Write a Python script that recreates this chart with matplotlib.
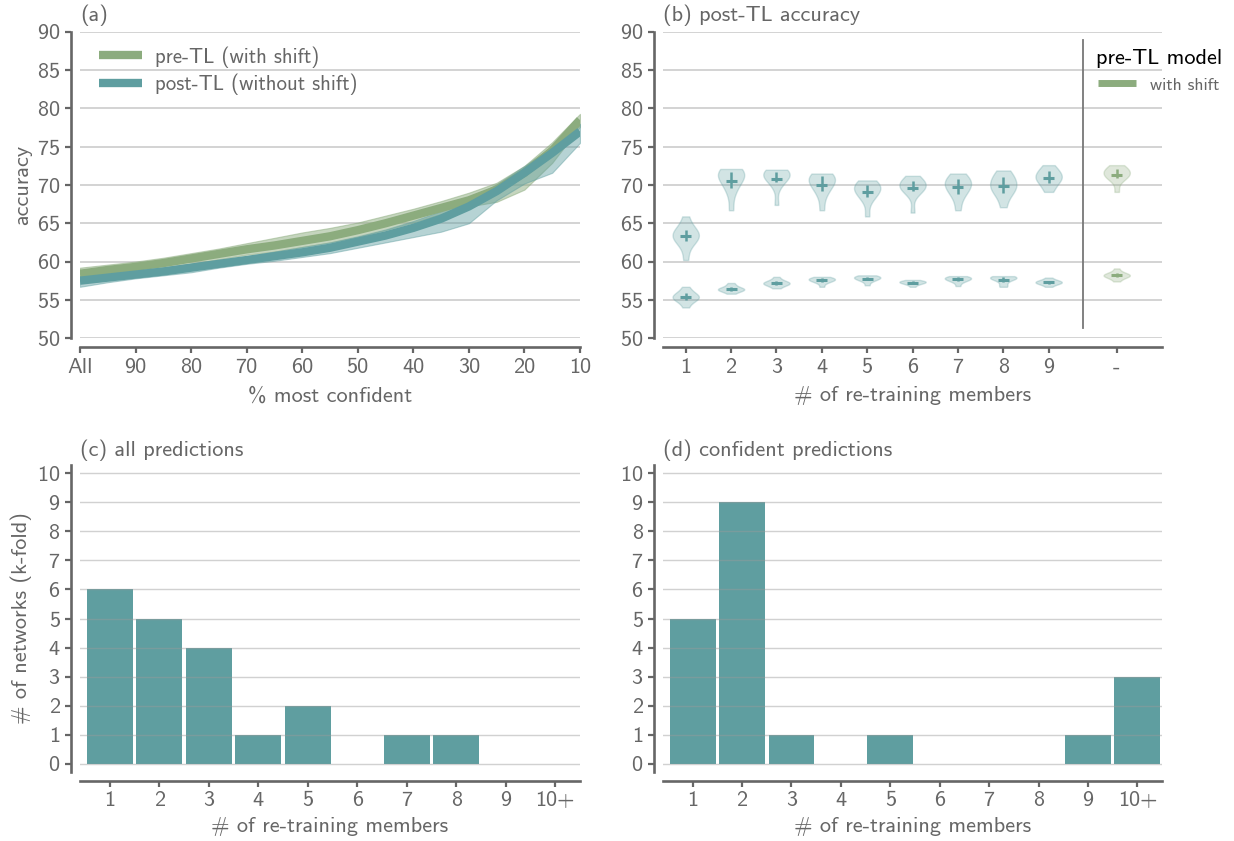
import matplotlib
matplotlib.use("Agg")
import matplotlib.pyplot as plt
from matplotlib.lines import Line2D
import numpy as np

plt.rcParams["font.family"] = ["cmss10", "DejaVu Sans"]
plt.rcParams["axes.unicode_minus"] = False
plt.rcParams["axes.formatter.use_mathtext"] = True

GREEN = "#8cac7e"
TEAL = "#5f9ea0"
GREY = "#666666"
GRID = "#c8c8c8"
FS = 16

# ---- (a) accuracy vs % most confident ----
pct = [100, 95, 90, 85, 80, 75, 70, 65, 60, 55, 50, 45, 40, 35, 30, 25, 20, 15, 10]
pre_mean = [58.4, 58.9, 59.3, 59.8, 60.4, 61.0, 61.6, 62.1, 62.7, 63.3, 64.1, 65.0, 66.0,
            67.0, 68.0, 69.4, 71.6, 74.5, 78.5]
pre_low = [57.7, 58.2, 58.7, 59.2, 59.7, 60.3, 60.9, 61.3, 61.9, 62.5, 63.2, 64.1, 65.1,
           66.2, 67.2, 67.8, 69.4, 72.9, 77.6]
pre_high = [59.2, 59.6, 60.0, 60.5, 61.1, 61.7, 62.4, 63.1, 63.8, 64.4, 65.1, 66.0, 66.9,
            67.9, 69.0, 70.3, 72.5, 75.6, 79.3]
post_mean = [57.5, 57.9, 58.3, 58.7, 59.2, 59.7, 60.2, 60.7, 61.2, 61.8, 62.6, 63.4, 64.4,
             65.6, 67.2, 69.2, 71.6, 74.2, 77.0]
post_low = [56.7, 57.3, 57.8, 58.2, 58.6, 59.2, 59.7, 60.1, 60.6, 61.1, 61.8, 62.5, 63.2,
            63.9, 65.0, 68.0, 70.2, 71.6, 75.5]
post_high = [58.1, 58.4, 58.8, 59.2, 59.7, 60.2, 60.7, 61.3, 61.9, 62.5, 63.3, 64.2, 65.3,
             66.6, 68.2, 70.1, 72.5, 75.0, 78.0]

# ---- (b) post-TL accuracy per number of re-training members (10 folds) ----
members = [1, 2, 3, 4, 5, 6, 7, 8, 9]
acc_confident = [
    [60.2, 62.0, 62.8, 63.1, 63.3, 63.5, 63.7, 64.0, 64.6, 65.9],
    [66.7, 69.0, 69.8, 70.5, 71.0, 71.3, 71.5, 71.7, 71.9, 72.1],
    [67.4, 69.8, 70.5, 70.9, 71.2, 71.4, 71.5, 71.7, 71.8, 72.0],
    [66.7, 68.6, 69.4, 69.9, 70.3, 70.6, 70.9, 71.1, 71.3, 71.5],
    [65.9, 68.0, 68.6, 69.0, 69.3, 69.6, 69.8, 70.0, 70.3, 70.6],
    [66.4, 68.9, 69.3, 69.6, 69.8, 70.0, 70.2, 70.4, 70.7, 71.2],
    [66.7, 68.3, 69.0, 69.5, 69.8, 70.1, 70.4, 70.7, 71.0, 71.5],
    [67.1, 68.5, 69.1, 69.5, 69.8, 70.1, 70.5, 70.9, 71.4, 71.9],
    [69.1, 69.8, 70.3, 70.7, 70.9, 71.1, 71.4, 71.7, 72.1, 72.6],
]
acc_all = [
    [54.0, 54.7, 55.0, 55.2, 55.3, 55.4, 55.6, 55.8, 56.1, 56.7],
    [55.8, 56.1, 56.2, 56.3, 56.4, 56.4, 56.5, 56.6, 56.9, 57.2],
    [56.5, 56.8, 57.0, 57.1, 57.1, 57.2, 57.3, 57.4, 57.6, 58.0],
    [56.7, 57.2, 57.4, 57.5, 57.6, 57.7, 57.7, 57.8, 57.9, 58.0],
    [56.9, 57.4, 57.6, 57.7, 57.8, 57.9, 58.0, 58.0, 58.1, 58.2],
    [56.7, 57.0, 57.1, 57.2, 57.3, 57.3, 57.4, 57.4, 57.5, 57.6],
    [56.8, 57.3, 57.5, 57.6, 57.7, 57.8, 57.9, 57.9, 58.0, 58.1],
    [56.7, 56.9, 57.4, 57.7, 57.8, 57.9, 57.9, 58.0, 58.0, 58.1],
    [56.7, 57.0, 57.1, 57.2, 57.3, 57.3, 57.4, 57.5, 57.6, 57.9],
]
pre_confident = [69.1, 70.6, 71.0, 71.2, 71.4, 71.6, 71.8, 72.0, 72.3, 72.6]
pre_all = [57.4, 57.8, 58.0, 58.1, 58.2, 58.2, 58.3, 58.4, 58.6, 59.1]

# ---- (c), (d) histogram of best number of re-training members ----
bins = ["1", "2", "3", "4", "5", "6", "7", "8", "9", "10+"]
count_all = [6, 5, 4, 1, 2, 0, 1, 1, 0, 0]
count_confident = [5, 9, 1, 0, 1, 0, 0, 0, 1, 3]


def style_axes(ax):
    for side in ("top", "right"):
        ax.spines[side].set_visible(False)
    for side in ("left", "bottom"):
        ax.spines[side].set_position(("outward", 6.5))
        ax.spines[side].set_linewidth(1.9)
        ax.spines[side].set_color(GREY)
    ax.tick_params(axis="both", length=4, width=1.6, color=GREY,
                   labelcolor=GREY, labelsize=FS)
    ax.yaxis.grid(True, color=GRID, linewidth=1.1)
    ax.xaxis.grid(False)


def title(ax, text, pad):
    ax.set_title(text, loc="left", fontsize=FS, color=GREY, pad=pad)


fig = plt.figure(figsize=(12.34, 8.41), dpi=100)
ax_a = fig.add_axes([0.0648, 0.598, 0.4052, 0.364])
ax_b = fig.add_axes([0.5373, 0.598, 0.4044, 0.364])
ax_c = fig.add_axes([0.0648, 0.0824, 0.4052, 0.3643])
ax_d = fig.add_axes([0.5373, 0.0824, 0.4044, 0.3643])

# (a)
style_axes(ax_a)
ax_a.set_axisbelow(True)
ax_a.fill_between(pct, pre_low, pre_high, color=GREEN, alpha=0.5, linewidth=0.8)
ax_a.fill_between(pct, post_low, post_high, color=TEAL, alpha=0.45, linewidth=0.8)
ax_a.plot(pct, pre_mean, color=GREEN, linewidth=6, solid_capstyle="butt")
ax_a.plot(pct, post_mean, color=TEAL, linewidth=6, solid_capstyle="butt")
ax_a.set_xlim(100, 10)
ax_a.set_ylim(50, 90)
ax_a.set_xticks([100, 90, 80, 70, 60, 50, 40, 30, 20, 10])
ax_a.set_xticklabels(["All", "90", "80", "70", "60", "50", "40", "30", "20", "10"])
ax_a.set_yticks(range(50, 91, 5))
ax_a.set_xlabel("% most confident", fontsize=FS, color=GREY, labelpad=7)
ax_a.set_ylabel("accuracy", fontsize=FS, color=GREY)
title(ax_a, "(a)", 8)
handles = [Line2D([], [], color=GREEN, linewidth=6, solid_capstyle="butt"),
           Line2D([], [], color=TEAL, linewidth=6, solid_capstyle="butt")]
ax_a.legend(handles, ["pre-TL (with shift)", "post-TL (without shift)"],
            loc="upper left", bbox_to_anchor=(0.0, 1.015), frameon=False,
            fontsize=15, handlelength=2.1, handletextpad=0.6, labelspacing=0.3,
            labelcolor=GREY)

# (b)
style_axes(ax_b)
ax_b.set_axisbelow(True)
pre_pos = 10.5


def violins(ax, data, pos, color):
    parts = ax.violinplot(data, positions=pos, widths=0.58, showextrema=False)
    for body in parts["bodies"]:
        body.set_facecolor(color)
        body.set_edgecolor(color)
        body.set_alpha(0.28)
        body.set_linewidth(1.0)
    for d, p in zip(data, pos):
        q1, q3 = np.percentile(d, [20, 80])
        ax.vlines(p, q1, q3, color=color, linewidth=1.8)
        ax.hlines(np.mean(d), p - 0.12, p + 0.12, color=color, linewidth=2.2)


violins(ax_b, acc_confident, members, TEAL)
violins(ax_b, acc_all, members, TEAL)
violins(ax_b, [pre_confident, pre_all], [pre_pos, pre_pos], GREEN)
ax_b.axvline(9.75, ymin=0.033, ymax=0.974, color="#777777", linewidth=1.3)
ax_b.set_xlim(0.5, 11.5)
ax_b.set_ylim(50, 90)
ax_b.set_yticks(range(50, 91, 5))
ax_b.set_xticks(members + [pre_pos])
ax_b.set_xticklabels([str(m) for m in members] + ["-"])
ax_b.set_xlabel("# of re-training members", fontsize=FS, color=GREY, labelpad=7)
title(ax_b, "(b) post-TL accuracy", 8)
ax_b.legend([Line2D([], [], color=GREEN, linewidth=5, solid_capstyle="butt")],
            ["with shift"], title="pre-TL model", loc="upper left",
            bbox_to_anchor=(0.835, 0.995), frameon=False, fontsize=12.7,
            title_fontsize=16, handlelength=2.2, handletextpad=0.8,
            labelcolor=GREY)

# (c), (d)
for ax, counts, label in ((ax_c, count_all, "(c) all predictions"),
                          (ax_d, count_confident, "(d) confident predictions")):
    style_axes(ax)
    ax.set_axisbelow(False)
    ax.yaxis.grid(True, color="#9a9a9a", linewidth=1.0, alpha=0.45)
    x = np.arange(1, len(bins) + 1)
    ax.bar(x, counts, width=0.93, color=TEAL, linewidth=0)
    ax.set_xlim(0.4, 10.5)
    ax.set_ylim(-0.27, 10.27)
    ax.set_yticks(range(0, 11))
    ax.set_xticks(x)
    ax.set_xticklabels(bins)
    ax.set_xlabel("# of re-training members", fontsize=FS, color=GREY, labelpad=5)
    title(ax, label, 7)
ax_c.set_ylabel("# of networks (k-fold)", fontsize=FS, color=GREY)

fig.savefig("out.png", dpi=100)
